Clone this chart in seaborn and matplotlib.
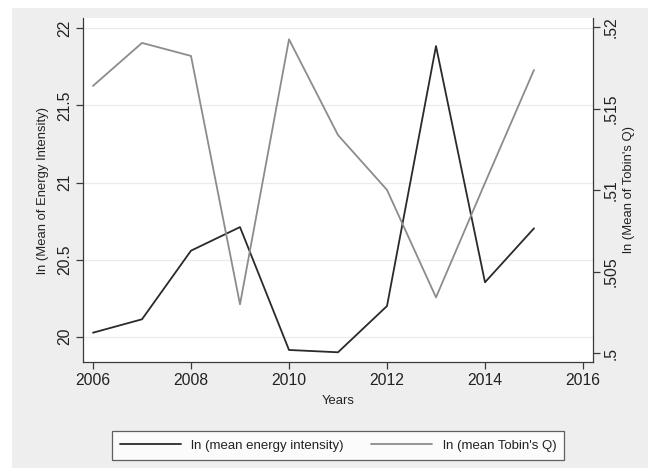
import matplotlib
matplotlib.use("Agg")
import matplotlib.pyplot as plt
from matplotlib.patches import Rectangle
import seaborn as sns
import pandas as pd

# Yearly series
years = [2006, 2007, 2008, 2009, 2010, 2011, 2012, 2013, 2014, 2015]
ln_energy_intensity = [20.026, 20.113, 20.558, 20.711, 19.914, 19.899, 20.199, 21.885, 20.353, 20.703]
ln_tobins_q = [0.51641, 0.51905, 0.51825, 0.50299, 0.51927, 0.51339, 0.51002, 0.50342, 0.51045, 0.51739]

x_ticks = [2006, 2008, 2010, 2012, 2014, 2016]
left_ticks = [20, 20.5, 21, 21.5, 22]
left_tick_labels = ["20", "20.5", "21", "21.5", "22"]
right_ticks = [0.5, 0.505, 0.51, 0.515, 0.52]
right_tick_labels = [".5", ".505", ".51", ".515", ".52"]

df = pd.DataFrame({"year": years, "energy": ln_energy_intensity, "tobin": ln_tobins_q})

sns.set_theme(style="white")
plt.rcParams["font.family"] = ["Liberation Sans", "DejaVu Sans"]

DARK = "#2a2a2a"
GREY = "#8c8c8c"
AXIS = "#3a3a3a"
TEXT = "#222222"

fig = plt.figure(figsize=(6.48, 4.68), dpi=100)
fig.patch.set_facecolor("white")
# light grey graph region
fig.patches.append(Rectangle((12 / 648, 0), 1 - 12 / 648, 1 - 8 / 468,
                             transform=fig.transFigure, facecolor="#eeeeee",
                             edgecolor="none", zorder=-10))

ax = fig.add_axes([83 / 648, 1 - 362 / 468, 510 / 648, 344 / 468])
ax.set_facecolor("white")
ax2 = ax.twinx()

sns.lineplot(data=df, x="year", y="energy", ax=ax, color=DARK, linewidth=1.3,
             label="ln (mean energy intensity)", legend=False)
sns.lineplot(data=df, x="year", y="tobin", ax=ax2, color=GREY, linewidth=1.3,
             label="ln (mean Tobin's Q)", legend=False)

ax.set_xlim(2005.796, 2016.204)
ax.set_ylim(19.836, 22.067)
ax2.set_ylim(0.49945, 0.52058)

ax.set_xticks(x_ticks)
ax.set_xticklabels([str(t) for t in x_ticks])
ax.set_yticks(left_ticks)
ax.set_yticklabels(left_tick_labels, rotation=90, va="center")
ax2.set_yticks(right_ticks)
ax2.set_yticklabels(right_tick_labels, rotation=90, va="center")

ax.yaxis.grid(True, color="#ebebeb", linewidth=0.9)
ax.xaxis.grid(False)
ax2.grid(False)
ax.set_axisbelow(True)

for a in (ax, ax2):
    a.spines["top"].set_visible(False)
    for side in ("left", "bottom", "right"):
        a.spines[side].set_color(AXIS)
        a.spines[side].set_linewidth(0.9)
ax.spines["right"].set_visible(False)
ax2.spines["left"].set_visible(False)
ax2.spines["bottom"].set_visible(False)

ax.tick_params(axis="x", direction="out", length=5, width=0.9, color=AXIS,
               labelsize=11.3, pad=3, labelcolor=TEXT, bottom=True)
ax.tick_params(axis="y", direction="out", length=5, width=0.9, color=AXIS,
               labelsize=11.3, pad=3, labelcolor=TEXT, left=True)
ax2.tick_params(axis="y", direction="out", length=5, width=0.9, color=AXIS,
                labelsize=11.3, pad=3, labelcolor=TEXT, right=True)

ax.set_xlabel("Years", fontsize=9.4, color=TEXT, labelpad=5)
ax.set_ylabel("ln (Mean of Energy Intensity)", fontsize=9.4, color=TEXT,
              rotation=90, va="center", ha="center")
ax.yaxis.set_label_coords((43 - 83) / 510, 0.5)
ax2.set_ylabel("ln (Mean of Tobin's Q)", fontsize=9.4, color=TEXT,
               rotation=90, va="center", ha="center")
ax2.yaxis.set_label_coords((629 - 83) / 510, 0.5)

handles = [ax.lines[0], ax2.lines[0]]
labels = ["ln (mean energy intensity)", "ln (mean Tobin's Q)"]
leg = fig.legend(handles, labels, loc="center", bbox_to_anchor=(338 / 648, 1 - 445.5 / 468),
                 ncol=2, fontsize=9.5, frameon=True, fancybox=False, handlelength=4.6,
                 handletextpad=0.8, columnspacing=2.1, borderpad=0.6)
leg.get_frame().set_edgecolor(AXIS)
leg.get_frame().set_linewidth(0.9)
leg.get_frame().set_facecolor("white")
for t in leg.get_texts():
    t.set_color(TEXT)

fig.savefig("out.png", dpi=100, facecolor=fig.get_facecolor())
